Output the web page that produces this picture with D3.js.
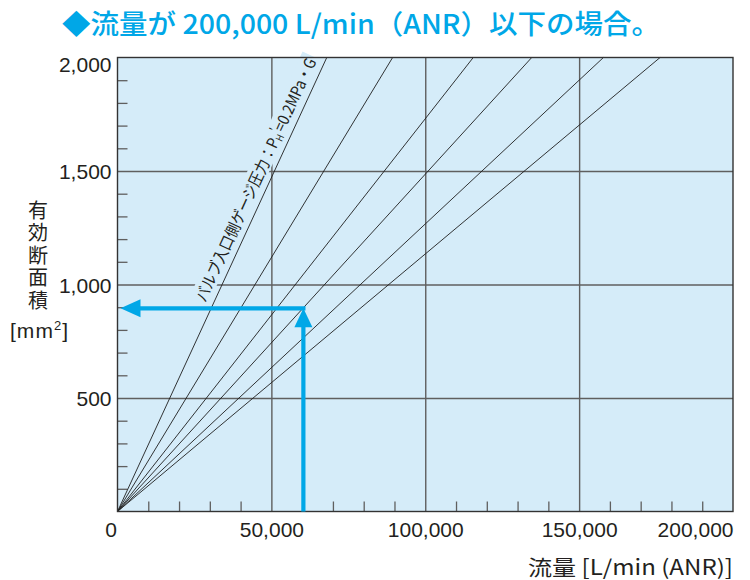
<!DOCTYPE html>
<html>
<head>
<meta charset="utf-8">
<script src="https://cdn.jsdelivr.net/npm/d3@7"></script>
<style>
  html, body { margin: 0; padding: 0; background: #ffffff; }
  svg { display: block; }
</style>
</head>
<body>
<svg id="chart" width="750" height="580"></svg>
<script>
// Axis ranges and tick labels
const flowDomain = [0, 200000];
const areaDomain = [0, 2000];
const flowTicks = [0, 50000, 100000, 150000, 200000];
const flowTickLabels = ["0", "50,000", "100,000", "150,000", "200,000"];
const areaTicks = [500, 1000, 1500, 2000];
const areaTickLabels = ["500", "1,000", "1,500", "2,000"];
const flowMinorStep = 10000;
const areaMinorStep = 100;

// Characteristic lines: flow [L/min (ANR)] reached at 2,000 mm², one line per inlet pressure
const lineFlowAt2000 = [68000, 89400, 115600, 134600, 157900, 176300];
const lineAreaTop = 2000;

// Worked example
const exampleFlow = 60400;
const exampleArea = 895;

// Texts
const titleText = "◆流量が 200,000 L/min（ANR）以下の場合。";
const yTitleText = "有効断面積";
const xTitleText = "流量 [L/min (ANR)]";
const pressureLabel = ["バルブ入口側ゲージ圧力：P", "H", "'", "=0.2MPa・G"];

const svg = d3.select("#chart");
const plot = { left: 117.5, right: 733, top: 57.5, bottom: 511.5 };

const x = d3.scaleLinear().domain(flowDomain).range([plot.left, plot.right]);
const y = d3.scaleLinear().domain(areaDomain).range([plot.bottom, plot.top]);

const BG = "#d5ecf9";
const GRID = "#5f5f5f";
const INK = "#231f20";
const CYAN = "#00a7e7";
const numFont = "'Liberation Sans', Arial, sans-serif";
const jpFont = "'Noto Sans CJK JP', 'Noto Sans', sans-serif";

// Title
svg.append("text")
  .attr("x", 62).attr("y", 34)
  .attr("font-family", jpFont)
  .attr("font-weight", 500)
  .attr("font-size", 27)
  .attr("fill", CYAN)
  .attr("textLength", 598)
  .attr("lengthAdjust", "spacingAndGlyphs")
  .text(titleText);

// Plot background
svg.append("rect")
  .attr("x", x(0)).attr("y", y(2000))
  .attr("width", x(200000) - x(0)).attr("height", y(0) - y(2000))
  .attr("fill", BG);

// Minor ticks (inside the frame)
const xMinor = d3.range(flowMinorStep, flowDomain[1], flowMinorStep).filter(v => v % 50000 !== 0);
const yMinor = d3.range(areaMinorStep, areaDomain[1], areaMinorStep).filter(v => v % 500 !== 0);

svg.append("g")
  .attr("transform", `translate(0,${y(0)})`)
  .call(d3.axisBottom(x).tickValues(xMinor).tickSize(-10).tickFormat(""))
  .call(g => g.select(".domain").remove())
  .call(g => g.selectAll("line").attr("stroke", GRID).attr("stroke-width", 1.3));

svg.append("g")
  .attr("transform", `translate(${x(0)},0)`)
  .call(d3.axisLeft(y).tickValues(yMinor).tickSize(-10).tickFormat(""))
  .call(g => g.select(".domain").remove())
  .call(g => g.selectAll("line").attr("stroke", GRID).attr("stroke-width", 1.3));

// Major grid lines
svg.append("g")
  .attr("transform", `translate(0,${y(0)})`)
  .call(d3.axisBottom(x).tickValues(flowTicks.slice(1, -1)).tickSize(-(y(0) - y(2000))).tickFormat(""))
  .call(g => g.select(".domain").remove())
  .call(g => g.selectAll("line").attr("stroke", GRID).attr("stroke-width", 1.4));

svg.append("g")
  .attr("transform", `translate(${x(0)},0)`)
  .call(d3.axisLeft(y).tickValues(areaTicks.slice(0, -1)).tickSize(-(x(200000) - x(0))).tickFormat(""))
  .call(g => g.select(".domain").remove())
  .call(g => g.selectAll("line").attr("stroke", GRID).attr("stroke-width", 1.4));

// Pressure label placement along the first line
const p0 = [x(0), y(0)];
const p1 = [x(lineFlowAt2000[0]), y(lineAreaTop)];
const dx = p1[0] - p0[0], dy = p1[1] - p0[1];
const len = Math.hypot(dx, dy);
const ux = dx / len, uy = dy / len;          // along the line
const nx = uy, ny = -ux;                      // perpendicular, towards upper-left
const angle = Math.atan2(dy, dx) * 180 / Math.PI;
const startArea = 905;
const sPt = [x(lineFlowAt2000[0] * startArea / lineAreaTop), y(startArea)];
const off = 7.5;
const labelOrigin = [sPt[0] + nx * off, sPt[1] + ny * off];
const labelLen = 266;

// knock-out band behind the label
svg.append("rect")
  .attr("transform", `translate(${labelOrigin[0]},${labelOrigin[1]}) rotate(${angle})`)
  .attr("x", -3).attr("y", -17)
  .attr("width", labelLen + 6).attr("height", 20)
  .attr("fill", BG);

// Characteristic lines
svg.append("g")
  .selectAll("line")
  .data(lineFlowAt2000)
  .join("line")
  .attr("x1", x(0)).attr("y1", y(0))
  .attr("x2", d => x(d)).attr("y2", y(lineAreaTop))
  .attr("stroke", "#1e1e1e")
  .attr("stroke-width", 0.9);

const lbl = svg.append("text")
  .attr("transform", `translate(${labelOrigin[0]},${labelOrigin[1]}) rotate(${angle})`)
  .attr("font-family", jpFont)
  .attr("font-size", 16)
  .attr("fill", INK)
  .attr("textLength", labelLen)
  .attr("lengthAdjust", "spacingAndGlyphs");
lbl.append("tspan").text(pressureLabel[0]);
lbl.append("tspan").attr("font-size", 10).attr("dy", 2).text(pressureLabel[1]);
lbl.append("tspan").attr("font-size", 12).attr("dy", -8).text(pressureLabel[2]);
lbl.append("tspan").attr("dy", 6).text(pressureLabel[3]);

// Frame
svg.append("rect")
  .attr("x", x(0)).attr("y", y(2000))
  .attr("width", x(200000) - x(0)).attr("height", y(0) - y(2000))
  .attr("fill", "none")
  .attr("stroke", "#333")
  .attr("stroke-width", 1.4);

// Example arrows
const ex = x(exampleFlow), ey = y(exampleArea);
const shaft = 4.2, headL = 19, headW = 9;
svg.append("line")
  .attr("x1", ex + shaft / 2).attr("y1", ey)
  .attr("x2", x(0) + 3 + headL - 1).attr("y2", ey)
  .attr("stroke", CYAN).attr("stroke-width", shaft);
svg.append("path")
  .attr("d", `M${x(0) + 3},${ey} L${x(0) + 3 + headL + 1},${ey - headW} L${x(0) + 3 + headL + 1},${ey + headW} Z`)
  .attr("fill", CYAN);
svg.append("line")
  .attr("x1", ex).attr("y1", y(0))
  .attr("x2", ex).attr("y2", ey + headL - 1)
  .attr("stroke", CYAN).attr("stroke-width", shaft);
svg.append("path")
  .attr("d", `M${ex},${ey} L${ex - headW},${ey + headL} L${ex + headW},${ey + headL} Z`)
  .attr("fill", CYAN);

// Tick labels
const xAxis = svg.append("g")
  .attr("transform", `translate(0,${y(0)})`)
  .call(d3.axisBottom(x).tickValues(flowTicks).tickSize(0).tickPadding(10)
    .tickFormat((d, i) => flowTickLabels[i]))
  .call(g => g.select(".domain").remove());
xAxis.selectAll("text")
  .attr("font-family", numFont).attr("font-size", 21).attr("fill", INK)
  .attr("dy", "0.72em");
xAxis.selectAll("text").filter(d => d === 0).attr("text-anchor", "end").attr("dx", -1);
xAxis.selectAll("text").filter(d => d === 200000).attr("text-anchor", "end");

const yAxis = svg.append("g")
  .attr("transform", `translate(${x(0)},0)`)
  .call(d3.axisLeft(y).tickValues(areaTicks).tickSize(0).tickPadding(6)
    .tickFormat((d, i) => areaTickLabels[i]))
  .call(g => g.select(".domain").remove());
yAxis.selectAll("text")
  .attr("font-family", numFont).attr("font-size", 21).attr("fill", INK)
  .attr("dy", "0.36em");
yAxis.selectAll("text").filter(d => d === 2000).attr("dy", "0.68em");

// Axis titles: vertical caption written top to bottom
svg.append("text")
  .attr("x", 38).attr("y", 200)
  .attr("writing-mode", "vertical-rl")
  .attr("font-family", jpFont)
  .attr("font-size", 20)
  .attr("letter-spacing", 2.5)
  .attr("fill", INK)
  .text(yTitleText);

const unit = svg.append("text")
  .attr("x", 10).attr("y", 338)
  .attr("font-family", numFont)
  .attr("font-size", 21)
  .attr("fill", INK)
  .attr("textLength", 58)
  .attr("lengthAdjust", "spacing");
unit.append("tspan").text("[mm");
unit.append("tspan").attr("font-size", 13).attr("dy", -8).text("2");
unit.append("tspan").attr("dy", 8).text("]");

svg.append("text")
  .attr("x", 733).attr("y", 575)
  .attr("text-anchor", "end")
  .attr("font-family", jpFont)
  .attr("font-size", 21)
  .attr("fill", INK)
  .attr("textLength", 205)
  .attr("lengthAdjust", "spacingAndGlyphs")
  .text(xTitleText);
</script>
</body>
</html>
